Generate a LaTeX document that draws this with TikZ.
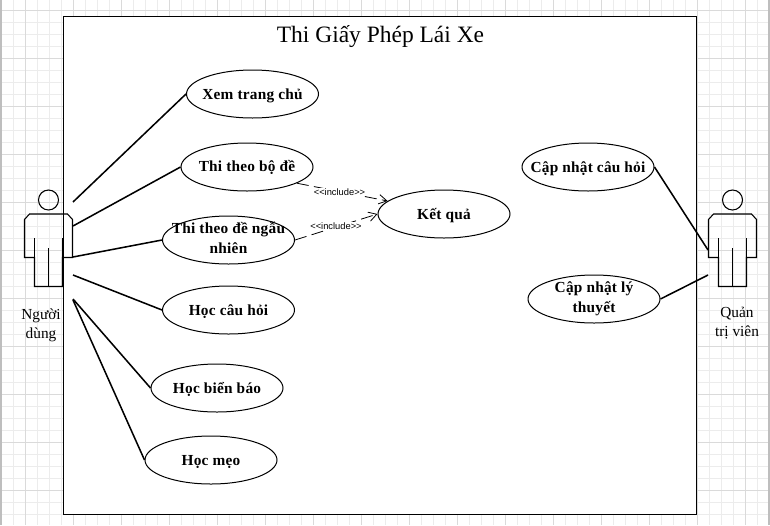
\documentclass[tikz,border=0pt]{standalone}
\usepackage{fontspec}
\setmainfont{Liberation Serif}
\newfontfamily\incfont{Liberation Sans}
\usetikzlibrary{arrows.meta,shapes.geometric}
\definecolor{gridminor}{RGB}{236,236,236}
\definecolor{gridmajor}{RGB}{218,218,218}
\definecolor{gridedge}{RGB}{190,190,190}
\newcommand{\uctext}[2][2.5]{\smash{\raisebox{-#1pt}{\makebox[0pt][c]{\begin{tabular}{@{}c@{}}#2\end{tabular}}}}}
\tikzset{
  x=0.75pt,y=-0.75pt,
  usecase/.style={draw=black,fill=white,ellipse,line width=0.75pt,minimum width=99pt,minimum height=36pt,inner sep=0pt,font=\addfontfeatures{LetterSpace=1.5}\fontsize{11.5}{15}\selectfont\bfseries},
  assoc/.style={line width=1.15pt,black},
  incl/.style={line width=0.6pt,dash pattern=on 9pt off 4pt,-{Straight Barb[length=6pt,width=7pt]}},
  incllabel/.style={font=\incfont\fontsize{7}{8}\selectfont,fill=white,inner sep=0.5pt},
  actorline/.style={line width=0.8pt,black},
  actorlabel/.style={font=\fontsize{11.5}{14.3}\selectfont,align=center,inner sep=0pt},
  titletext/.style={font=\fontsize{17.6}{20}\selectfont,inner sep=0pt},
}
\begin{document}
\begin{tikzpicture}
\useasboundingbox (0,0) rectangle (770,525);
\fill[white] (0,0) rectangle (770,525);
\foreach \i in {0,...,64} {\draw[gridminor,line width=0.7pt] ({1+12*\i},0) -- ({1+12*\i},525);}
\foreach \i in {0,...,44} {\draw[gridminor,line width=0.7pt] (0,{10+12*\i}) -- (770,{10+12*\i});}
\foreach \i in {0,...,15} {\draw[gridmajor,line width=0.7pt] ({25+48*\i},0) -- ({25+48*\i},525);}
\foreach \i in {0,...,10} {\draw[gridmajor,line width=0.7pt] (0,{10+48*\i}) -- (770,{10+48*\i});}
\draw[gridedge,line width=1.5pt] (0.5,0) -- (0.5,525) (769,0) -- (769,525);
\draw[line width=1pt,fill=white] (63.5,16.5) rectangle (696.5,514.5);
\node[titletext] (title) at (380.5,37) {Thi Giấy Phép Lái Xe};

% use cases
\node[usecase] (home) at (252.5,94) {\uctext[3.9]{Xem trang chủ}};
\node[usecase] (bode) at (247,167) {\uctext[3.4]{Thi theo bộ đề}};
\node[usecase] (ngaunhien) at (228.5,240) {\uctext{Thi theo đề ngẫu\\nhiên}};
\node[usecase] (ketqua) at (444,214) {\uctext[3.9]{Kết quả}};
\node[usecase] (cauhoi) at (228.5,310) {\uctext[3.9]{Học câu hỏi}};
\node[usecase] (bienbao) at (217,388) {\uctext[3.9]{Học biển báo}};
\node[usecase] (meo) at (211,460) {\uctext[3.9]{Học mẹo}};
\node[usecase] (capcauhoi) at (588,167) {\uctext[3.9]{Cập nhật câu hỏi}};
\node[usecase] (caplythuyet) at (594,299) {\uctext{Cập nhật lý\\thuyết}};

% actor user
\node[draw,circle,actorline,minimum size=15pt,inner sep=0pt,fill=none] (userhead) at (48.5,200) {};
\draw[actorline] (29.5,214) -- (67.5,214) -- (72.5,219.5) -- (72.5,257.5) -- (62.5,257.5) -- (62.5,286.5) -- (34.5,286.5) -- (34.5,257.5) -- (24.5,257.5) -- (24.5,219.5) -- cycle;
\draw[actorline] (34.5,238) -- (34.5,257.5) (62.5,238) -- (62.5,257.5) (48.5,248) -- (48.5,286.5);
\node[actorlabel] (userlabel) at (41,325) {Người\\dùng};

% actor admin
\node[draw,circle,actorline,minimum size=15pt,inner sep=0pt,fill=none] (adminhead) at (732.5,200) {};
\draw[actorline] (713.5,214) -- (751.5,214) -- (756.5,219.5) -- (756.5,257.5) -- (746.5,257.5) -- (746.5,286.5) -- (718.5,286.5) -- (718.5,257.5) -- (708.5,257.5) -- (708.5,219.5) -- cycle;
\draw[actorline] (718.5,238) -- (718.5,257.5) (746.5,238) -- (746.5,257.5) (732.5,248) -- (732.5,286.5);
\node[actorlabel] (adminlabel) at (737,323) {Quản\\trị viên};

% free ends on actors
\coordinate (u1) at (73,202);
\coordinate (u2) at (73,226);
\coordinate (u3) at (73,257);
\coordinate (u4) at (73,275);
\coordinate (u5) at (73,299);
\coordinate (u6) at (73,300);
\coordinate (a1) at (708,250);
\coordinate (a2) at (708,275);

\draw[assoc] (u1) -- (home.west);
\draw[assoc] (u2) -- (bode.west);
\draw[assoc] (u3) -- (ngaunhien.west);
\draw[assoc] (u4) -- (cauhoi.west);
\draw[assoc] (u5) -- (bienbao.west);
\draw[assoc] (u6) -- (meo.west);
\draw[assoc] (capcauhoi.east) -- (a1);
\draw[assoc] (caplythuyet.east) -- (a2);

\draw[incl] (bode.-18) -- (ketqua.167);
\draw[incl] (ngaunhien.east) -- (ketqua.west);
\node[incllabel] (inc1label) at (339.5,192) {<{}<include>{}>};
\node[incllabel] (inc2label) at (336,226) {<{}<include>{}>};
\end{tikzpicture}
\end{document}
